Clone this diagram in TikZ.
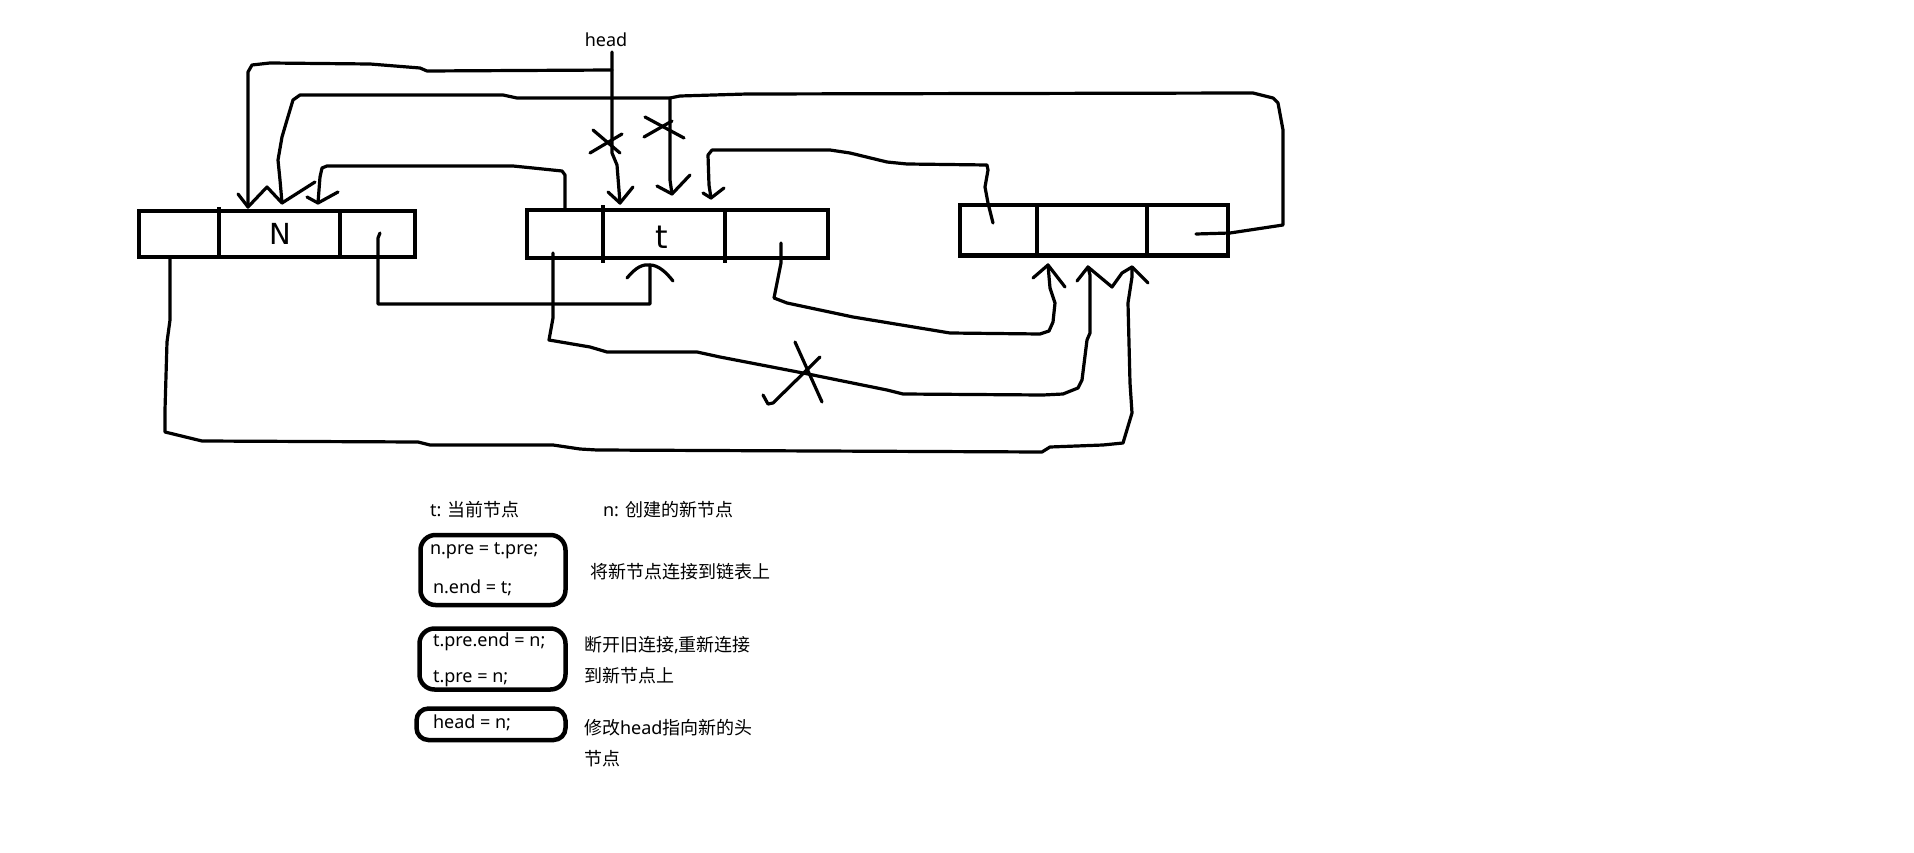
\documentclass[tikz,border=0pt]{standalone}
\usepackage{fontspec}
\newfontfamily\latfont{Noto Sans}
\newfontfamily\cjkfont{Noto Sans CJK SC}
\newfontfamily\handfont{DejaVu Sans}
\newcommand{\zh}[1]{{\cjkfont #1}}
\begin{document}
\begin{tikzpicture}[x=1pt,y=-1pt,
  every node/.style={inner sep=0pt,outer sep=0pt},
  ln/.style={line width=3.2pt,line cap=round,line join=round},
  cellbox/.style={draw,line width=4.5pt},
  stub/.style={line width=4.5pt},
  rbox/.style={draw,line width=4.5pt,rounded corners=#1},
  txt/.style={font=\latfont\fontsize{18}{22}\selectfont,anchor=base west},
  hand/.style={font=\handfont\fontsize{#1}{#1}\selectfont}]

\fill[white] (0,0) rectangle (1914,853);
\useasboundingbox (0,0) rectangle (1914,853);

% ---- the new node n ----
\node[cellbox,minimum width=80pt,minimum height=46pt]  (nP) at (179,234) {};
\node[cellbox,minimum width=121pt,minimum height=46pt] (nV) at (279.5,234) {};
\node[cellbox,minimum width=75pt,minimum height=46pt]  (nE) at (377.5,234) {};
\node[hand=29] (nLbl) at (280,234) {N};
\draw[stub] (219,211) -- (219,207);

% ---- the current node t ----
\node[cellbox,minimum width=76pt,minimum height=48pt]  (tP) at (565,234) {};
\node[cellbox,minimum width=122pt,minimum height=48pt] (tV) at (664,234) {};
\node[cellbox,minimum width=103pt,minimum height=48pt] (tE) at (776.5,234) {};
\node[hand=32] (tLbl) at (662,237) {t};
\draw[stub] (603,210) -- (603,205);
\draw[stub] (603,258) -- (603,263);
\draw[stub] (725,258) -- (725,263);

% ---- the previous node ----
\node[cellbox,minimum width=77pt,minimum height=50.5pt]  (xP) at (998.5,230.25) {};
\node[cellbox,minimum width=110pt,minimum height=50.5pt] (xV) at (1092,230.25) {};
\node[cellbox,minimum width=81pt,minimum height=50.5pt]  (xE) at (1187.5,230.25) {};

% ---- connector end points ----
\coordinate (hdS) at (612,52);
\coordinate (hdJ) at (612,70);
\coordinate (lpJ) at (670,98);
\coordinate (xEs) at (1196,234);
\coordinate (xPs) at (993,223);
\coordinate (nEs) at (380,233);
\coordinate (tEs) at (781,243);
\coordinate (tPb) at (553,253);
\coordinate (nPs) at (170,259);
\coordinate (nA) at (248,207);
\coordinate (nB) at (282,203);
\coordinate (nC) at (318,203);
\coordinate (tA) at (620,203);
\coordinate (tB) at (672,194);
\coordinate (tC) at (711,198);
\coordinate (tD) at (650,265);
\coordinate (xA) at (1048,265);
\coordinate (xB) at (1088,267);
\coordinate (xC) at (1132,267);

% head pointer
\node[font=\latfont\fontsize{18}{22}\selectfont,anchor=base] (hd) at (606,47) {head};
\draw[ln] (hdS) -- (612,153) -- (617,165) -- (tA);
\draw[ln] (hdJ) -- (427,71) -- (420,68) -- (370,64) -- (270,63) -- (252,65) -- (248,72) -- (nA);
\draw[ln] (593,130) -- (620,153);
\draw[ln] (590,153) -- (622,134);

% last node's end back to the front
\draw[ln] (xEs) -- (1230,233) -- (1283,225) -- (1283,130) -- (1278,103) -- (1273,98)
  -- (1253,93) -- (747,94) -- (680,96) -- (lpJ) -- (517,98) -- (503,95) -- (300,95)
  -- (293,100) -- (287,120) -- (282,137) -- (278,160) -- (280,180) -- (nB);
\draw[ln] (lpJ) -- (670,180) -- (tB);
\draw[ln] (645,117) -- (684,138);
\draw[ln] (644,137) -- (672,121);

% previous node's end to t
\draw[ln] (xPs) -- (988,203) -- (985,187) -- (988,170) -- (987,165) -- (907,164)
  -- (887,162) -- (850,153) -- (830,150) -- (712,150) -- (708,155) -- (709,185) -- (tC);

% t's pre to n
\draw[ln] (tP.north) -- (565,175) -- (562,171) -- (533,168) -- (513,166) -- (327,166)
  -- (322,168) -- (320,177) -- (nC);

% n's end to t
\draw[ln] (nEs) -- (378,238) -- (378,304) -- (650,304) -- (tD);

% t's end to the previous node
\draw[ln] (tEs) -- (781,263) -- (774,298) -- (787,303) -- (853,317) -- (950,333)
  -- (1040,334) -- (1049,331) -- (1053,322) -- (1055,303) -- (1050,288) -- (xA);

% t's old pre link (cut)
\draw[ln] (tPb) -- (553,318) -- (549,340) -- (590,347) -- (607,352) -- (697,352)
  -- (720,357) -- (803,373) -- (887,390) -- (903,394) -- (1043,395) -- (1063,394)
  -- (1078,388) -- (1082,380) -- (1087,340) -- (1090,333) -- (1090,275) -- (xB);
\draw[ln] (795,342) -- (822,402);
\draw[ln] (820,357) -- (773,403) -- (768,404) -- (763,395);

% n's pre to the previous node
\draw[ln] (nPs) -- (170,320) -- (167,342) -- (165,410) -- (165,432) -- (202,441)
  -- (418,442) -- (430,445) -- (553,445) -- (580,449) -- (597,450) -- (1042,452)
  -- (1050,447) -- (1103,445) -- (1123,443) -- (1132,413) -- (1130,383) -- (1128,303)
  -- (1132,277) -- (xC);

% arrow heads
\draw[ln] (238,194) -- (nA) -- (267,187) -- (nB) -- (315,182);
\draw[ln] (307,197) -- (nC) -- (338,192);
\draw[ln] (608,192) -- (tA) -- (633,187);
\draw[ln] (657,186) -- (tB) -- (690,175);
\draw[ln] (703,193) -- (tC) -- (724,188);
\draw[ln] (627,278) .. controls (636,267) and (643,264) .. (tD)
  .. controls (658,265) and (666,272) .. (673,281);
\draw[ln] (1033,278) -- (xA) -- (1065,287);
\draw[ln] (1077,281) -- (xB) -- (1112,287) -- (1122,273) -- (xC) -- (1148,283);

% ---- notes ----
\node[txt] (tDef) at (430,516) {t: \zh{当前节点}};
\node[txt] (nDef) at (603,516) {n: \zh{创建的新节点}};

\node[rbox=15pt,minimum width=145pt,minimum height=70pt] (s1) at (493,570) {};
\node[txt] (c1a) at (430,554) {n.pre = t.pre;};
\node[txt] (c1b) at (433,593) {n.end = t;};
\node[txt] (d1) at (590,578) {\zh{将新节点连接到链表上}};

\node[rbox=15pt,minimum width=146pt,minimum height=61pt] (s2) at (492.5,659) {};
\node[txt] (c2a) at (433,646) {t.pre.end = n;};
\node[txt] (c2b) at (433,682) {t.pre = n;};
\node[txt] (d2a) at (584,651) {\zh{断开旧连接},\zh{重新连接}};
\node[txt] (d2b) at (584,682) {\zh{到新节点上}};

\node[rbox=12pt,minimum width=149pt,minimum height=31.5pt] (s3) at (491,724.25) {};
\node[txt] (c3a) at (433,728) {head = n;};
\node[txt] (d3a) at (584,734) {\zh{修改}head\zh{指向新的头}};
\node[txt] (d3b) at (584,765) {\zh{节点}};
\end{tikzpicture}
\end{document}
